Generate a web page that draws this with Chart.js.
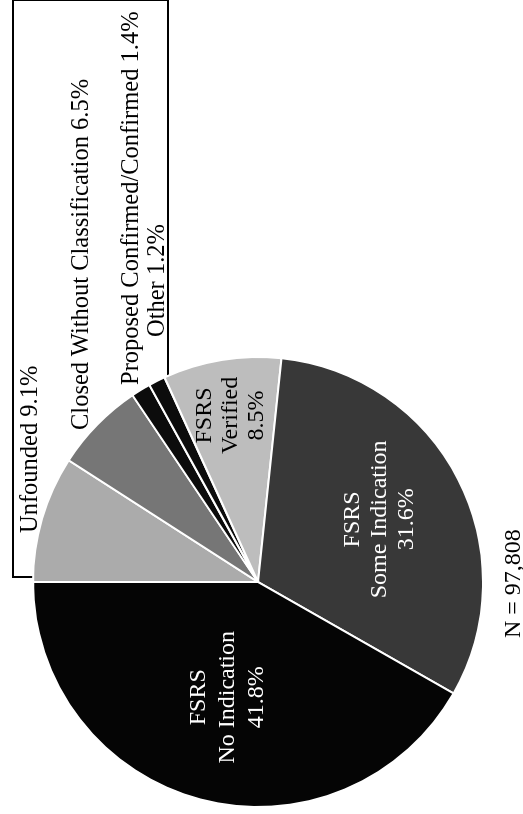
<!DOCTYPE html>
<html>
<head>
<meta charset="utf-8">
<script src="https://cdn.jsdelivr.net/npm/chart.js@4.4.1/dist/chart.umd.min.js"></script>
<style>
    html, body { margin: 0; padding: 0; background: #fff; overflow: hidden; }
    body { width: 523px; height: 814px; position: relative; }
    /* the page is printed sideways, so the whole chart is turned a quarter turn */
    #sheet {
        position: absolute; left: 0; top: 0;
        width: 814px; height: 523px;
        transform-origin: 0 0;
        transform: translate(0, 814px) rotate(-90deg);
        font-family: "Liberation Serif", "Times New Roman", serif;
        color: #000;
    }
    #box {
        position: absolute; left: 236px; top: 12px;
        width: 575px; height: 153px;
        border: 2px solid #000;
    }
    #myChart { position: absolute; left: 0; top: 0; }
    .note {
        position: absolute; font-size: 24.5px; line-height: 25px; white-space: nowrap;
    }
    #total { font-size: 24px; line-height: 24px; }
</style>
</head>
<body>
<div id="sheet">
    <div id="box"></div>
    <canvas id="myChart" width="814" height="523"></canvas>
    <div class="note" name="outLabel" style="left:281px; top:16px;"></div>
    <div class="note" name="outLabel" style="left:384px; top:67px;"></div>
    <div class="note" name="outLabel" style="left:429px; top:117px;"></div>
    <div class="note" name="outLabel" style="left:477px; top:143px;"></div>
    <div class="note" id="total" style="left:176px; top:500px;"></div>
</div>
<script>
// slices, clockwise from 12 o'clock
const categories = ['Unfounded', 'Closed Without Classification', 'Proposed Confirmed/Confirmed', 'Other',
    'FSRS Verified', 'FSRS Some Indication', 'FSRS No Indication'];
const percents = [9.1, 6.5, 1.4, 1.2, 8.5, 31.6, 41.8];
const totalN = '97,808';

// text drawn inside the pie (lines), null = label sits in the box instead
const innerLines = [null, null, null, null,
    ['FSRS', 'Verified', '8.5%'],
    ['FSRS', 'Some Indication', '31.6%'],
    ['FSRS', 'No Indication', '41.8%']];

const sliceColors = ['#ababab', '#767676', '#0c0c0c', '#0c0c0c', '#bdbdbd', '#383838', '#050505'];
const textColors = ['#000', '#000', '#fff', '#fff', '#000', '#fff', '#fff'];
const labelRadius = [0, 0, 0, 0, 0.75, 0.61, 0.53];
const lineGap = [0, 0, 0, 0, 26, 27, 29];

// outside labels go in the box
document.getElementsByName('outLabel').forEach((el, i) => {
    el.innerText = categories[i] + ' ' + percents[i] + '%';
});
document.getElementById('total').innerText = 'N = ' + totalN;

const sliceText = {
    id: 'sliceText',
    afterDatasetsDraw(chart) {
        const ctx = chart.ctx;
        const arcs = chart.getDatasetMeta(0).data;
        ctx.save();
        ctx.font = '24px "Liberation Serif", "Times New Roman", serif';
        ctx.textAlign = 'center';
        ctx.textBaseline = 'middle';
        arcs.forEach((arc, i) => {
            const lines = innerLines[i];
            if (!lines) return;
            const p = arc.getProps(['x', 'y', 'startAngle', 'endAngle', 'outerRadius'], true);
            const mid = (p.startAngle + p.endAngle) / 2;
            const r = p.outerRadius * labelRadius[i];
            const cx = p.x + Math.cos(mid) * r;
            const cy = p.y + Math.sin(mid) * r;
            ctx.fillStyle = textColors[i];
            lines.forEach((txt, k) => {
                ctx.fillText(txt, cx, cy + (k - (lines.length - 1) / 2) * lineGap[i]);
            });
        });
        ctx.restore();
    }
};

const ctx = document.getElementById('myChart').getContext('2d');
const myChart = new Chart(ctx, {
    type: 'pie',
    data: {
        labels: categories,
        datasets: [{
            data: percents,
            backgroundColor: sliceColors,
            borderColor: '#ffffff',
            borderWidth: 2,
            hoverOffset: 0
        }]
    },
    options: {
        responsive: false,
        animation: false,
        events: [],
        layout: {
            padding: { left: 6, top: 32, right: 356, bottom: 39 }
        },
        plugins: {
            legend: { display: false },
            tooltip: { enabled: false }
        }
    },
    plugins: [sliceText]
});
</script>
</body>
</html>
